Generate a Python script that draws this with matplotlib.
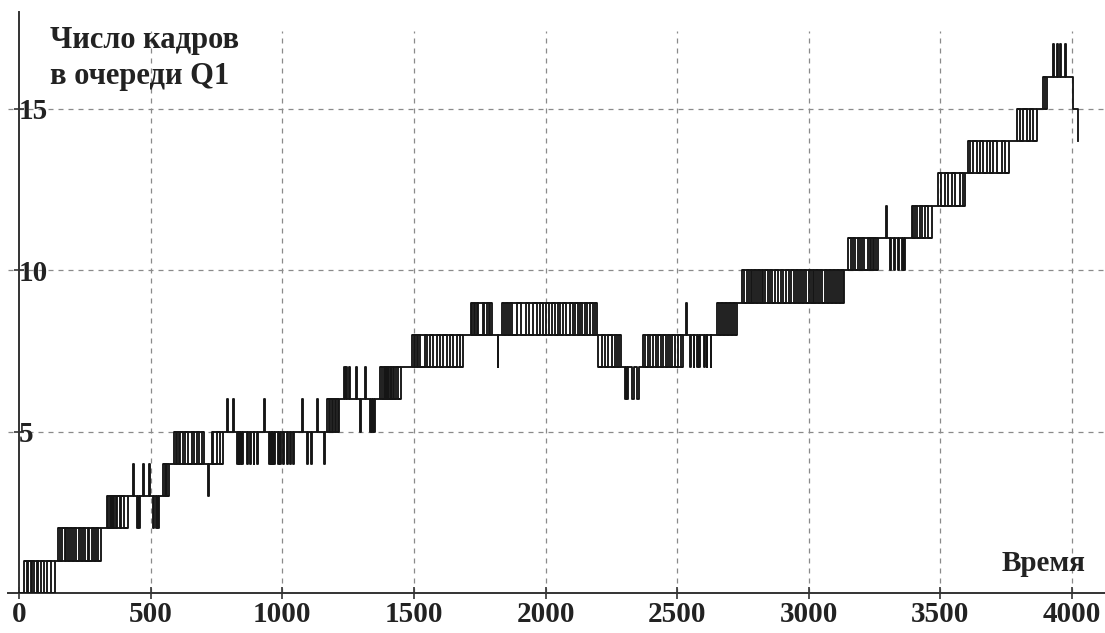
import matplotlib
matplotlib.use("Agg")
import matplotlib.pyplot as plt

# ---------------- data ----------------
start_level = 0
# each episode: queue toggles between the current level and `alt` at the listed times
alt_levels = [1, 2, 3, 4, 2, 4, 2, 4, 5, 3, 5, 6, 4, 6, 4, 6, 4, 6, 4, 6,
              7, 5, 7, 5, 7, 8, 9, 7, 9, 7, 6, 8, 9, 7, 9, 10, 11, 12, 10, 12,
              13, 14, 15, 16, 17, 15, 14]
# True = sustained flicker band (both levels occupied), False = isolated pulses
sustained = [True, True, True, False, False, False, False, True, True, False,
             True, False, False, False, False, False, False, False, False, True,
             False, False, False, False, True, True, True, False, True, True,
             False, True, False, False, True, True, True, False, False, True,
             True, True, True, True, False, False, False]
toggle_times = [
    [19, 30, 34, 46, 50, 58, 67, 73, 82, 95, 108, 120, 138],
    [148, 156, 163, 173, 179, 186, 194, 201, 209, 217, 226, 234, 241, 251, 260,
     266, 276, 285, 293, 300, 310],
    [334, 338, 344, 348, 353, 357, 361, 369, 372, 384, 388, 399, 414],
    [433, 436],
    [448, 452, 456, 460],
    [471, 474, 494, 497],
    [509, 513, 519, 523, 528, 532],
    [547, 555, 559, 563, 570],
    [589, 595, 600, 606, 612, 622, 632, 642, 656, 666, 675, 685, 695, 704],
    [717, 720],
    [732, 738, 751, 764, 776],
    [790, 793, 811, 816],
    [828, 831, 834, 837, 840, 843, 846, 849, 866, 869, 878, 881, 891, 894, 904, 907],
    [931, 934],
    [950, 953, 956, 959, 962, 965, 968, 972, 984, 987, 992, 995, 1003, 1006,
     1018, 1021, 1030, 1033, 1041, 1044],
    [1075, 1078],
    [1094, 1097, 1110, 1113],
    [1132, 1135],
    [1159, 1162],
    [1170, 1176, 1182, 1187, 1193, 1199, 1205, 1210, 1216],
    [1235, 1238, 1243, 1246, 1254, 1257, 1281, 1284],
    [1296, 1299],
    [1315, 1318],
    [1334, 1337, 1342, 1346, 1350, 1353],
    [1372, 1378, 1387, 1391, 1395, 1399, 1403, 1407, 1411, 1414, 1422, 1426,
     1431, 1440, 1452],
    [1493, 1499, 1505, 1510, 1516, 1522, 1543, 1550, 1562, 1573, 1588, 1600,
     1611, 1626, 1638, 1649, 1664, 1676, 1687],
    [1716, 1722, 1727, 1733, 1739, 1744, 1761, 1767, 1778, 1784, 1790, 1795],
    [1818, 1821],
    [1835, 1843, 1851, 1858, 1866, 1873, 1892, 1908, 1927, 1938, 1953, 1968,
     1980, 1991, 2003, 2014, 2025, 2037, 2048, 2056, 2067, 2079, 2092, 2105,
     2113, 2124, 2130, 2139, 2151, 2158, 2170, 2181, 2189, 2196],
    [2200, 2214, 2227, 2239, 2252, 2265, 2272, 2280, 2288],
    [2303, 2306, 2310, 2313, 2330, 2334, 2349, 2353],
    [2371, 2379, 2390, 2398, 2409, 2421, 2428, 2440, 2447, 2459, 2466, 2474,
     2481, 2493, 2504, 2516, 2521],
    [2535, 2538],
    [2550, 2553, 2562, 2565, 2576, 2580, 2584, 2588, 2600, 2604, 2612, 2615,
     2627, 2630],
    [2652, 2660, 2668, 2675, 2683, 2690, 2698, 2706, 2713, 2721, 2728],
    [2747, 2755, 2765, 2772, 2780, 2785, 2793, 2800, 2808, 2816, 2822, 2827,
     2835, 2845, 2852, 2861, 2873, 2884, 2894, 2903, 2915, 2924, 2934, 2943,
     2953, 2960, 2968, 2975, 2983, 2991, 3002, 3010, 3015, 3021, 3029, 3036,
     3044, 3051, 3063, 3070, 3078, 3086, 3093, 3101, 3108, 3116, 3124, 3129, 3135],
    [3150, 3162, 3169, 3177, 3188, 3196, 3203, 3211, 3226, 3232, 3238, 3243,
     3249, 3257, 3264],
    [3293, 3296],
    [3310, 3314, 3325, 3329, 3340, 3344, 3352, 3356, 3363, 3367],
    [3390, 3397, 3403, 3412, 3424, 3431, 3443, 3454, 3469],
    [3492, 3503, 3519, 3530, 3544, 3557, 3576, 3587, 3595],
    [3606, 3614, 3625, 3639, 3652, 3663, 3677, 3690, 3701, 3715, 3734, 3747, 3762],
    [3792, 3804, 3815, 3829, 3842, 3853, 3865],
    [3891, 3897, 3903],
    [3929, 3932, 3943, 3946, 3955, 3958, 3974, 3977],
    [4005],
    [4022],
]
x_ticks = [0, 500, 1000, 1500, 2000, 2500, 3000, 3500, 4000]
y_ticks = [5, 10, 15]
y_title = "Число кадров\nв очереди Q1"
x_title = "Время"

# ---------------- build the step series ----------------
t_pts = [0]
v_pts = [start_level]
rails = []  # (level, t_from, t_to) where the queue flickers between two levels
cur = start_level
for alt, band, ts in zip(alt_levels, sustained, toggle_times):
    base = cur
    if band:
        rails.append((base, ts[0], ts[-1]))
        rails.append((alt, ts[0], ts[-1]))
    for t in ts:
        cur = alt if cur == base else base
        t_pts.append(t)
        v_pts.append(cur)

# ---------------- drawing ----------------
plt.rcParams['font.family'] = ['Liberation Serif', 'DejaVu Serif']
plt.rcParams['font.weight'] = 'bold'

fig = plt.figure(figsize=(11.05, 6.33), dpi=100)
ax = fig.add_axes([8 / 1105, 40 / 633, 1 - 8 / 1105, (593 - 12) / 633])

ax.set_xlim(-42, 4125)
ax.set_ylim(0, 18)

grid_kw = dict(color='#8a8a8a', lw=0.9, ls=(0, (4, 4)), zorder=1)
for xv in x_ticks[1:]:
    ax.axvline(xv, ymax=17.4 / 18, **grid_kw)
for yv in y_ticks:
    ax.axhline(yv, **grid_kw)

line_color = '#151515'
ax.step(t_pts, v_pts, where='post', color=line_color, lw=1.35, zorder=3)
for lvl, t0, t1 in rails:
    ax.plot([t0, t1], [lvl, lvl], color=line_color, lw=1.35, zorder=3,
            solid_capstyle='butt')

for s in ['top', 'right']:
    ax.spines[s].set_visible(False)
ax.spines['left'].set_position(('data', 0))
ax.spines['left'].set_color('#333333')
ax.spines['bottom'].set_color('#333333')
ax.spines['left'].set_linewidth(1.4)
ax.spines['bottom'].set_linewidth(1.4)

ax.set_xticks(x_ticks)
ax.set_xticklabels([str(v) for v in x_ticks])
ax.set_yticks(y_ticks)
ax.set_yticklabels([str(v) for v in y_ticks])
ax.tick_params(axis='x', direction='inout', length=8, width=1.2, color='#333333',
               labelsize=21, pad=2, labelcolor='#222222')
ax.tick_params(axis='y', direction='inout', length=7, width=1.2, color='#333333',
               labelsize=21, pad=-3, labelcolor='#222222')
for lab in ax.get_yticklabels():
    lab.set_horizontalalignment('left')
for lab in ax.get_xticklabels() + ax.get_yticklabels():
    lab.set_fontweight('bold')

fig.text(50 / 1105, 1 - 26 / 633, y_title, ha='left', va='top', fontsize=22,
         fontweight='bold', color='#222222', linespacing=1.3)
fig.text(1085 / 1105, 1 - 571 / 633, x_title, ha='right', va='baseline',
         fontsize=21, fontweight='bold', color='#222222')

fig.savefig('out.png', dpi=100, facecolor='white')
